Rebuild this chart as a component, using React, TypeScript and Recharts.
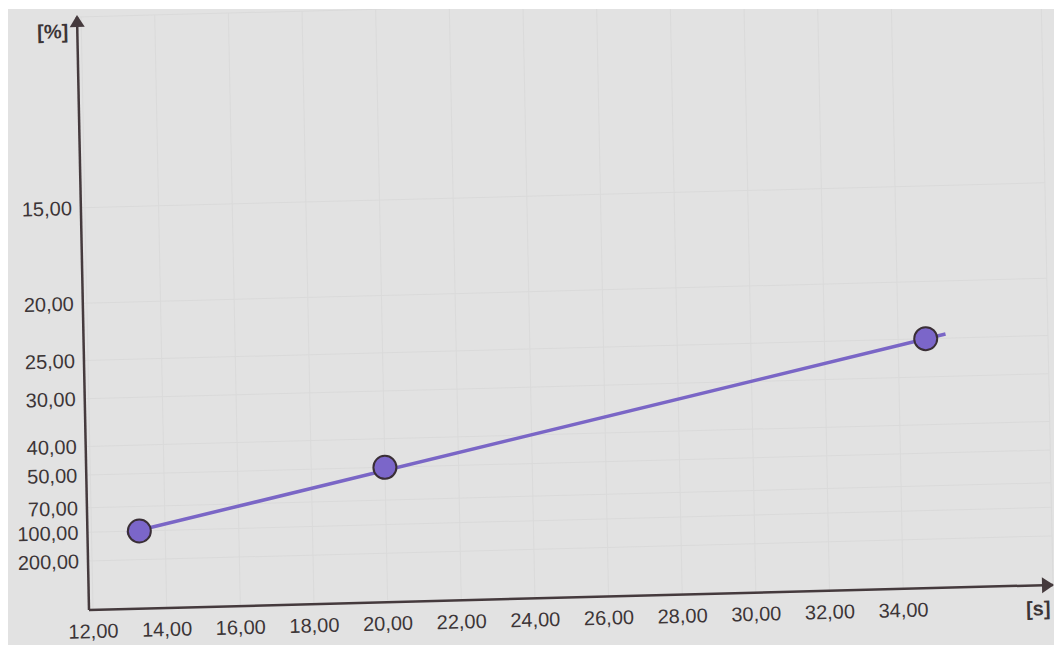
import React from 'react'
import {
  ComposedChart, Line, Scatter, XAxis, YAxis, CartesianGrid, ReferenceDot,
} from 'recharts'

// measured points: time [s] vs remaining percentage
const pointTimes = [13.3, 20.0, 34.75]
const pointPercents = [100, 50, 25]

// fitted straight line, drawn a little past the outer points
const trendTimes = [12.96, 35.29]
const trendPercents = [103.5, 24.56]

const xTicks = [12, 14, 16, 18, 20, 22, 24, 26, 28, 30, 32, 34]
const yTickPercents = [15, 20, 25, 30, 40, 50, 70, 100, 200]

// axis bounds (x in seconds, y in 100/percent)
const X_MIN = 11.89
const X_MAX = 38.07
const Y_MIN = -0.356
const Y_MAX = 10

const AXIS = '#453a3d'
const TEXT = '#3c3537'
const LINE = '#7a66c6'
const FONT = '"Liberation Sans", Arial, sans-serif'

// the y axis is reciprocal: plot 100/percent so the trend becomes a straight line
const toY = (p: number) => 100 / p
const comma = (n: number) => n.toFixed(2).replace('.', ',')

const points = pointTimes.map((t, i) => ({ t, v: toY(pointPercents[i]) }))
const trend = trendTimes.map((t, i) => ({ t, v: toY(trendPercents[i]) }))
const yTicks = yTickPercents.map(toY)

const ArrowUp = (p: any) => (
  <path d={`M${p.cx},${p.cy - 2} l-7.5,12 l15,0 z`} fill={AXIS} />
)
const ArrowRight = (p: any) => (
  <path d={`M${p.cx + 1},${p.cy} l-12,-8 l0,16 z`} fill={AXIS} />
)

const Marker = (p: any) => (
  <circle cx={p.cx} cy={p.cy} r={11.5} fill="#7b66c9" stroke="#3a2f36" strokeWidth={2} />
)

export default function App() {
  return (
    <div style={{ position: 'absolute', left: 0, top: 0, width: 1054, height: 645, background: '#fff', overflow: 'hidden' }}>
      <div style={{ position: 'absolute', left: 8, top: 9, right: 0, bottom: 0, background: '#e2e2e2' }} />
      <div
        style={{
          position: 'absolute', left: 0, top: 0,
          transform: 'matrix(1, -0.026, 0.0202, 1, 0, 0)',
          transformOrigin: '89px 610px',
        }}
      >
        <ComposedChart width={1054} height={645} margin={{ top: 17, right: 1, bottom: 0, left: 0 }}>
          <CartesianGrid stroke="#dadada" strokeWidth={1} />
          <XAxis
            dataKey="t"
            type="number"
            domain={[X_MIN, X_MAX]}
            ticks={xTicks}
            interval={0}
            allowDataOverflow
            height={35}
            tickLine={false}
            tickSize={0}
            tickMargin={14}
            tickFormatter={comma}
            tick={{ fontSize: 20, fill: TEXT, fontFamily: FONT }}
            axisLine={{ stroke: AXIS, strokeWidth: 2.5 }}
            label={{
              content: ({ viewBox }: any) => (
                <text x={viewBox.x + viewBox.width - 3} y={viewBox.y + 30} textAnchor="end"
                  fontSize={20} fontWeight="bold" fill={TEXT} fontFamily={FONT}>[s]</text>
              ),
            }}
          />
          <YAxis
            dataKey="v"
            type="number"
            domain={[Y_MIN, Y_MAX]}
            ticks={yTicks}
            interval={0}
            allowDataOverflow
            width={89}
            tickLine={false}
            tickSize={0}
            tickMargin={9}
            tickFormatter={(v: number) => comma(100 / v)}
            tick={{ fontSize: 20, fill: TEXT, fontFamily: FONT }}
            axisLine={{ stroke: AXIS, strokeWidth: 2.5 }}
            label={{
              content: ({ viewBox }: any) => (
                <text x={viewBox.x + viewBox.width - 9} y={viewBox.y + 21} textAnchor="end"
                  fontSize={20} fontWeight="bold" fill={TEXT} fontFamily={FONT}>[%]</text>
              ),
            }}
          />
          <ReferenceDot x={X_MIN} y={Y_MAX} ifOverflow="visible" shape={ArrowUp} />
          <ReferenceDot x={X_MAX} y={Y_MIN} ifOverflow="visible" shape={ArrowRight} />
          <Line
            data={trend}
            dataKey="v"
            type="linear"
            stroke={LINE}
            strokeWidth={3.5}
            dot={false}
            activeDot={false}
            isAnimationActive={false}
          />
          <Scatter data={points} dataKey="v" shape={Marker} isAnimationActive={false} />
        </ComposedChart>
      </div>
      {/* white paper margin along the top edge */}
      <div style={{ position: 'absolute', left: 0, top: 0, right: 0, height: 9, background: '#fff' }} />
    </div>
  )
}
